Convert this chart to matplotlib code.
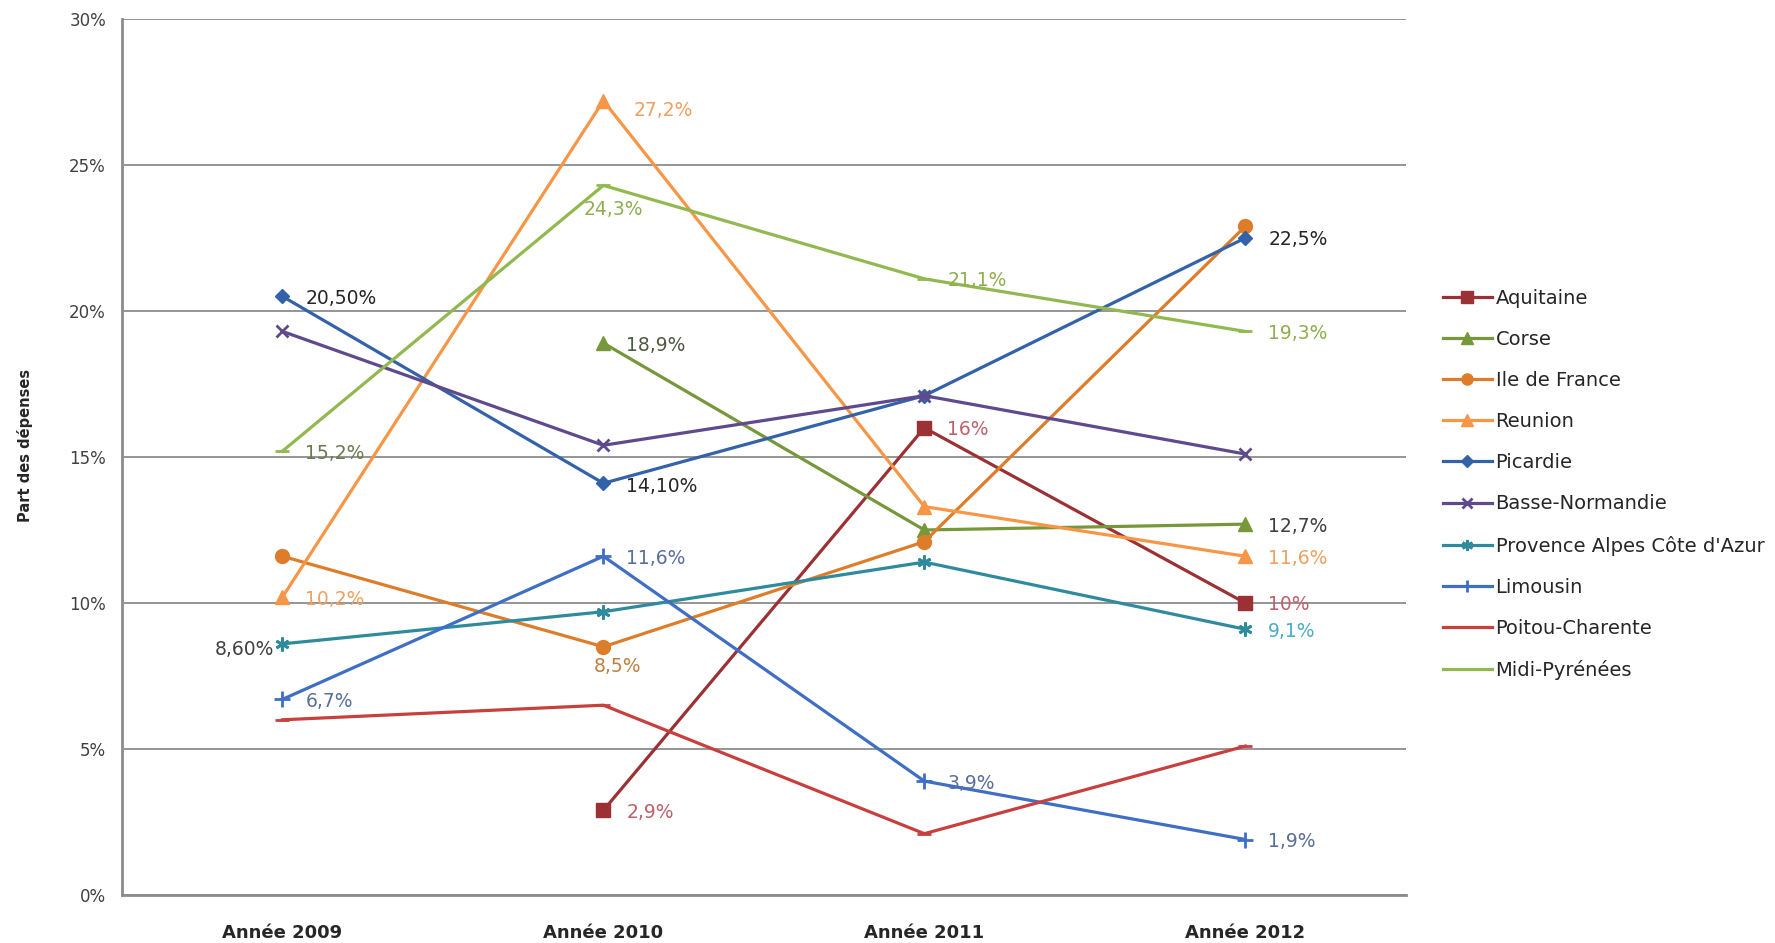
import numpy as np
import matplotlib
matplotlib.use("Agg")
import matplotlib.pyplot as plt
from matplotlib.ticker import FuncFormatter

plt.rcParams["font.family"] = ["DejaVu Sans"]

# ---- data -------------------------------------------------------------
years = ["Année 2009", "Année 2010", "Année 2011", "Année 2012"]

aquitaine = [np.nan, 2.9, 16.0, 10.0]
corse = [np.nan, 18.9, 12.5, 12.7]
ile_de_france = [11.6, 8.5, 12.1, 22.9]
reunion = [10.2, 27.2, 13.3, 11.6]
picardie = [20.5, 14.1, 17.1, 22.5]
basse_normandie = [19.3, 15.4, 17.1, 15.1]
paca = [8.6, 9.7, 11.4, 9.1]
limousin = [6.7, 11.6, 3.9, 1.9]
poitou_charente = [6.0, 6.5, 2.1, 5.1]
midi_pyrenees = [15.2, 24.3, 21.1, 19.3]

series_names = ["Aquitaine", "Corse", "Ile de France", "Reunion", "Picardie",
                "Basse-Normandie", "Provence Alpes Côte d'Azur", "Limousin",
                "Poitou-Charente", "Midi-Pyrénées"]
series_values = [aquitaine, corse, ile_de_france, reunion, picardie,
                 basse_normandie, paca, limousin, poitou_charente, midi_pyrenees]

# number of decimals shown on each point label (None = no label)
label_decimals = [
    [None, 1, 0, 0],
    [None, 1, None, 1],
    [None, 1, None, None],
    [1, 1, None, 1],
    [2, 2, None, 1],
    [None, None, None, None],
    [2, None, None, 1],
    [1, 1, 1, 1],
    [None, None, None, None],
    [1, 1, 1, 1],
]

y_ticks = [0, 5, 10, 15, 20, 25, 30]

# ---- styles -----------------------------------------------------------
styles = [
    dict(color="#9B3134", marker="s", ms=10),
    dict(color="#76973A", marker="^", ms=10),
    dict(color="#DD7D2A", marker="o", ms=10),
    dict(color="#F79646", marker="^", ms=10),
    dict(color="#3462A8", marker="D", ms=7.5),
    dict(color="#5E4A8C", marker="x", ms=9),
    dict(color="#2E8B9E", marker=(6, 2, 0), ms=10),
    dict(color="#3F6FC4", marker="+", ms=11),
    dict(color="#C8403D", marker="_", ms=10),
    dict(color="#92B850", marker="_", ms=10),
]

label_colors = [
    "#C0606A", "#3F3F3F", "#C08040", "#F0A060", "#262626",
    "#333333", "#4BACC6", "#5A6E9A", "#C8403D", "#8FAE4F",
]

# per-label colour / placement overrides: (series, point) -> dict
label_overrides = {
    (1, 1): dict(color="#4D5A40"),
    (6, 0): dict(color="#404040", dx=-8, dy=-6, ha="right"),
    (9, 0): dict(color="#6B7A4E"),
    (9, 1): dict(dx=10, dy=-24, ha="center"),
    (2, 1): dict(dx=14, dy=-20, ha="center"),
    (3, 1): dict(dx=30, dy=-10),
    (4, 1): dict(dy=-3),
}

PX = 72 / 100.0  # points per pixel at dpi 100

fig = plt.figure(figsize=(17.75, 9.43), dpi=100)
ax = fig.add_axes([0.0687, 0.0509, 0.7233, 0.929])

x = np.arange(len(years))
for vals, st, name in zip(series_values, styles, series_names):
    thin = st["marker"] in ("x", "+", "_") or isinstance(st["marker"], tuple)
    ax.plot(x, vals, color=st["color"], lw=2.3, marker=st["marker"],
            ms=st["ms"], mew=2.0 if thin else 1.0,
            mfc=st["color"], mec=st["color"], label=name, zorder=3)

for si, (vals, decs) in enumerate(zip(series_values, label_decimals)):
    for pi, d in enumerate(decs):
        if d is None or np.isnan(vals[pi]):
            continue
        txt = f"{vals[pi]:.{d}f}%".replace(".", ",")
        ov = label_overrides.get((si, pi), {})
        dx = ov.get("dx", 23)
        dy = ov.get("dy", -2)
        ax.annotate(txt, (x[pi], vals[pi]), xytext=(dx * PX, dy * PX),
                    textcoords="offset points", ha=ov.get("ha", "left"),
                    va="center", fontsize=13.5,
                    color=ov.get("color", label_colors[si]), zorder=4)

ax.set_xlim(-0.5, len(years) - 0.5)
ax.set_ylim(0, 30)
ax.set_yticks(y_ticks)
ax.yaxis.set_major_formatter(FuncFormatter(lambda v, p: f"{v:.0f}%"))
ax.set_xticks(x)
ax.set_xticklabels(years)
ax.grid(axis="y", color="#8C8C8C", lw=1.3, zorder=0)
ax.set_axisbelow(True)
for s in ("top", "right"):
    ax.spines[s].set_visible(False)
for s in ("left", "bottom"):
    ax.spines[s].set_color("#8C8C8C")
    ax.spines[s].set_linewidth(2.0)
ax.tick_params(axis="y", length=0, pad=16 * PX, labelsize=12, labelcolor="#404040")
ax.tick_params(axis="x", length=0, pad=29 * PX, labelsize=13, labelcolor="#262626")
for t in ax.get_xticklabels():
    t.set_fontweight("semibold")

fig.text(0.014, 0.528, "Part des dépenses", rotation=90, ha="center", va="center",
         fontsize=10.5, fontweight="bold", color="#262626",
         family=["Liberation Sans Narrow", "DejaVu Sans"])

leg = fig.legend(loc="upper left", bbox_to_anchor=(0.813, 0.694), frameon=False,
                 fontsize=14, handlelength=2.5, handletextpad=0.2,
                 labelspacing=1.14, borderpad=0, borderaxespad=0, markerscale=0.8)
for t in leg.get_texts():
    t.set_color("#262626")

fig.savefig("out.png", dpi=100, facecolor="white")
